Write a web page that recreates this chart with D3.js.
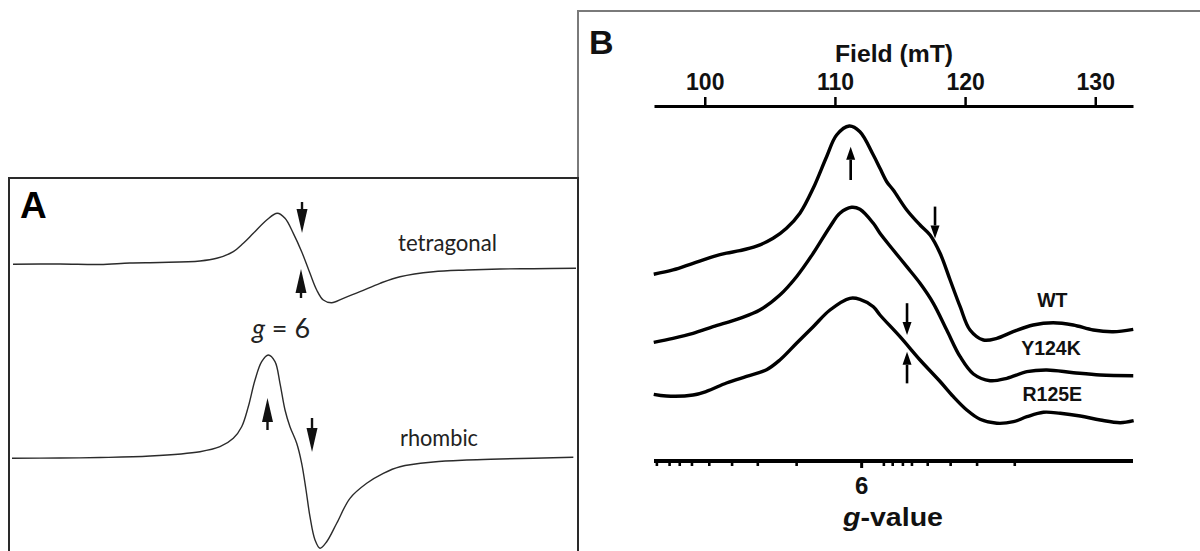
<!DOCTYPE html>
<html>
<head>
<meta charset="utf-8">
<script src="https://cdn.jsdelivr.net/npm/d3@7"></script>
<style>
  html, body { margin: 0; padding: 0; background: #fff; }
  svg { display: block; }
</style>
</head>
<body>
<svg id="fig" width="1200" height="551"></svg>
<script>
// ---------- Panel A: reference derivative spectra (arbitrary field units) ----------
const tetragonalField  = [0.18, 8.5, 15.58, 20.88, 26.19, 33.27, 36.23, 39.17, 40.94, 42.71, 45.08, 46.96, 48.32, 49.79, 51.27, 52.74, 53.93, 55.1, 56.58, 58.64, 61.59, 65.13, 68.67, 74.57, 80.48, 86.37, 92.27, 99.82];
const tetragonalSignal = [77.22, 77.30, 77.16, 77.57, 77.70, 78.11, 78.84, 80.62, 82.89, 85.59, 89.19, 91.0, 89.65, 85.59, 80.62, 74.78, 70.27, 67.57, 66.84, 68.03, 69.81, 72.08, 73.86, 75.22, 75.68, 75.95, 76.03, 76.14];

const rhombicField  = [0, 8.5, 15.58, 24.42, 33.27, 36.81, 39.17, 40.65, 41.82, 43.01, 44.19, 45.36, 46.55, 47.43, 48.32, 49.2, 50.39, 51.27, 52.04, 52.74, 53.63, 54.51, 55.7, 57.47, 59.82, 62.78, 65.72, 68.67, 74.57, 80.48, 86.37, 99.35];
const rhombicSignal = [24.78, 24.86, 25.0, 25.41, 26.57, 27.92, 30.19, 33.32, 38.73, 45.95, 50.89, 52.7, 50.89, 45.05, 37.84, 33.32, 28.84, 23.43, 16.22, 9.0, 2.7, 0.46, 2.24, 7.22, 13.97, 18.03, 20.73, 22.51, 23.78, 24.32, 24.59, 25.05];

// g = 6 markers on the panel A spectra (field position, arrow tail -> tip)
const aArrowField = [51.33, 51.15, 45.22, 53.1];
const aArrowFrom  = [94.05, 68.11, 32.43, 35.68];
const aArrowTo    = [85.68, 75.95, 41.08, 26.49];

const aTraceNames = ["tetragonal", "rhombic"];

// ---------- Panel B: measured spectra, field in mT ----------
const wtField  = [96.08, 97.56, 99.10, 100.64, 101.67, 102.69, 103.98, 105.25, 106.28, 107.31, 108.33, 109.36, 110.13, 111.1, 111.92, 112.95, 113.46, 113.98, 114.48, 115.52, 116.54, 117.31, 118.08, 118.85, 119.62, 120.38, 121.41, 122.44, 123.69, 125.23, 126.77, 128.31, 129.85, 131.38, 132.92];
const wtSignal = [53.06, 54.29, 56.2, 58.1, 59.1, 59.8, 61.1, 63.34, 66.2, 70.49, 77.63, 86.66, 92.86, 95.43, 93.8, 87.14, 83.34, 79.51, 77.14, 71.43, 67.14, 64.29, 59.06, 51.43, 43.8, 37.14, 34.29, 34.77, 36.66, 38.57, 39.23, 38.57, 37.14, 36.66, 37.34];

const y124kField  = [96.08, 97.56, 99.10, 100.64, 102.69, 104.23, 105.77, 107.05, 108.33, 109.62, 110.38, 111.28, 111.92, 112.95, 113.46, 114.48, 115.52, 116.54, 117.56, 118.59, 119.62, 120.64, 121.92, 123.21, 124.75, 126.28, 128.33, 130.38, 132.92];
const y124kSignal = [33.63, 34.77, 36.2, 38.09, 40.49, 42.86, 47.14, 52.37, 59.06, 66.66, 70.49, 72.2, 71.63, 67.63, 64.77, 60.0, 55.23, 50.49, 44.77, 37.14, 29.51, 24.57, 22.66, 23.34, 25.23, 25.71, 24.94, 24.29, 24.09];

const r125eField  = [96.08, 97.05, 99.10, 100.13, 101.67, 103.21, 104.75, 105.77, 107.05, 108.33, 109.62, 111.15, 111.92, 112.95, 113.46, 115.0, 116.54, 118.08, 119.1, 120.13, 121.15, 122.44, 123.72, 124.75, 126.02, 127.31, 128.85, 130.38, 131.92, 132.95];
const r125eSignal = [18.77, 18.29, 18.57, 19.6, 22.0, 23.9, 25.8, 28.57, 33.34, 38.09, 42.86, 46.2, 45.91, 43.8, 41.43, 35.23, 28.57, 22.43, 18.09, 14.29, 11.63, 10.49, 10.94, 12.37, 13.63, 13.34, 12.57, 11.43, 10.66, 11.23];

const bTraceNames = ["WT", "Y124K", "R125E"];
// label anchor for each trace (field, signal level)
const bLabelField  = [126.7, 126.6, 126.7];
const bLabelSignal = [43.7, 30.0, 17.0];

// feature markers on panel B (field, arrow tail -> tip)
const bArrowField = [111.21, 117.69, 115.54, 115.54];
const bArrowFrom  = [80.0, 72.4, 44.8, 21.9];
const bArrowTo    = [89.5, 63.3, 35.7, 30.9];

const fieldTicks   = [100, 110, 120, 130];
const fieldDomain  = [96.1, 132.9];
const microwaveGHz = 9.41;           // X-band
const gLabelTicks  = [6];
const gMinorTicks  = [6.98, 6.91, 6.855, 6.79, 6.70, 6.585, 6.46, 6.28, 5.91, 5.875, 5.835, 5.80, 5.74, 5.655, 5.56, 5.43];

// ---------- drawing ----------
const svg = d3.select("#fig");
const SANS = "'Liberation Sans', Arial, sans-serif";
const HUMANIST = "Lato, 'Open Sans', sans-serif";

function zip(xs, ys) { return xs.map((x, i) => [x, ys[i]]); }

function arrow(g, x, yTail, yTip, headLen, headW, stemW, color) {
  const dir = yTip < yTail ? -1 : 1;
  const yBase = yTip - dir * headLen;
  g.append("line")
    .attr("x1", x).attr("x2", x)
    .attr("y1", yTail).attr("y2", yBase)
    .attr("stroke", color).attr("stroke-width", stemW);
  g.append("path")
    .attr("d", `M${x - headW / 2},${yBase}L${x + headW / 2},${yBase}L${x},${yTip}Z`)
    .attr("fill", color);
}

// frames
const frames = svg.append("g").attr("fill", "none");
frames.append("path").attr("d", "M578,551V11H1200").attr("stroke", "#7a7a7a").attr("stroke-width", 2);
frames.append("path").attr("d", "M9,551V178H578V551").attr("stroke", "#2a2a2a").attr("stroke-width", 2);

// ----- Panel A -----
const xA = d3.scaleLinear().domain([0, 100]).range([12, 577]);
const yA = d3.scaleLinear().domain([0, 100]).range([550, 180]);

svg.append("clipPath").attr("id", "clipA")
  .append("rect").attr("x", 10).attr("y", 179).attr("width", 567).attr("height", 372);

const gA = svg.append("g").attr("clip-path", "url(#clipA)");
const lineA = d3.line().x(d => xA(d[0])).y(d => yA(d[1])).curve(d3.curveCatmullRom.alpha(0.5));

[[tetragonalField, tetragonalSignal], [rhombicField, rhombicSignal]].forEach(([f, s]) => {
  gA.append("path")
    .attr("d", lineA(zip(f, s)))
    .attr("fill", "none")
    .attr("stroke", "#2b2b2b")
    .attr("stroke-width", 1.4)
    .attr("stroke-linejoin", "round");
});

aArrowField.forEach((f, i) => {
  arrow(gA, xA(f), yA(aArrowFrom[i]), yA(aArrowTo[i]), 24, 11, 2.4, "#111");
});

svg.append("text").attr("x", 20).attr("y", 218)
  .attr("font-family", SANS).attr("font-weight", "bold").attr("font-size", 37)
  .text("A");

svg.append("text").attr("x", 398).attr("y", 251)
  .attr("font-family", HUMANIST).attr("font-size", 23).attr("fill", "#222")
  .attr("textLength", 99).attr("lengthAdjust", "spacingAndGlyphs")
  .text(aTraceNames[0]);
svg.append("text").attr("x", 400).attr("y", 446)
  .attr("font-family", HUMANIST).attr("font-size", 23).attr("fill", "#222")
  .attr("textLength", 78).attr("lengthAdjust", "spacingAndGlyphs")
  .text(aTraceNames[1]);

const gEq = svg.append("text").attr("x", 281).attr("y", 338)
  .attr("text-anchor", "middle")
  .attr("font-family", HUMANIST).attr("font-size", 27).attr("fill", "#222");
gEq.append("tspan").attr("font-style", "italic").text("g");
gEq.append("tspan").text(" = 6");

// ----- Panel B -----
const xB = d3.scaleLinear().domain(fieldDomain).range([654, 1133]);
const yB = d3.scaleLinear().domain([0, 100]).range([460, 110]);

// top field axis
const axisTopG = svg.append("g").attr("transform", "translate(0,106)")
  .call(d3.axisTop(xB).tickValues(fieldTicks).tickSize(9).tickSizeOuter(0).tickPadding(7));
axisTopG.select(".domain").attr("stroke", "#000").attr("stroke-width", 3);
axisTopG.selectAll(".tick line").attr("stroke", "#000").attr("stroke-width", 2.5);
axisTopG.selectAll(".tick text")
  .attr("font-family", SANS).attr("font-weight", "bold").attr("font-size", 23).attr("fill", "#111");

svg.append("text").attr("x", 894).attr("y", 62).attr("text-anchor", "middle")
  .attr("font-family", SANS).attr("font-weight", "bold").attr("font-size", 24).attr("fill", "#111")
  .attr("textLength", 118).attr("lengthAdjust", "spacingAndGlyphs")
  .text("Field (mT)");

// bottom g-value axis (g = h·nu / (muB·B))
const gToField = g => 71.4477 * microwaveGHz / g;
const gAxis = svg.append("g");
gAxis.append("line").attr("x1", xB.range()[0]).attr("x2", xB.range()[1])
  .attr("y1", 461).attr("y2", 461).attr("stroke", "#000").attr("stroke-width", 4);
gAxis.selectAll("line.minor").data(gMinorTicks).join("line").attr("class", "minor")
  .attr("x1", d => xB(gToField(d))).attr("x2", d => xB(gToField(d)))
  .attr("y1", 461).attr("y2", 466).attr("stroke", "#000").attr("stroke-width", 2.6);
gAxis.selectAll("line.major").data(gLabelTicks).join("line").attr("class", "major")
  .attr("x1", d => xB(gToField(d))).attr("x2", d => xB(gToField(d)))
  .attr("y1", 461).attr("y2", 468).attr("stroke", "#000").attr("stroke-width", 3);
gAxis.selectAll("text").data(gLabelTicks).join("text")
  .attr("x", d => xB(gToField(d))).attr("y", 494).attr("text-anchor", "middle")
  .attr("font-family", SANS).attr("font-weight", "bold").attr("font-size", 24).attr("fill", "#111")
  .text(d => d);

const gTitle = svg.append("text").attr("x", 893).attr("y", 526).attr("text-anchor", "middle")
  .attr("font-family", SANS).attr("font-weight", "bold").attr("font-size", 26).attr("fill", "#111")
  .attr("textLength", 100).attr("lengthAdjust", "spacingAndGlyphs");
gTitle.append("tspan").attr("font-style", "italic").text("g");
gTitle.append("tspan").text("-value");

// spectra
const lineB = d3.line().x(d => xB(d[0])).y(d => yB(d[1])).curve(d3.curveCatmullRom.alpha(0.5));
const bTraces = [[wtField, wtSignal], [y124kField, y124kSignal], [r125eField, r125eSignal]];
svg.append("g").selectAll("path").data(bTraces).join("path")
  .attr("d", d => lineB(zip(d[0], d[1])))
  .attr("fill", "none").attr("stroke", "#000")
  .attr("stroke-width", 3.4).attr("stroke-linejoin", "round").attr("stroke-linecap", "butt");

// trace labels
svg.append("g").selectAll("text").data(bTraceNames).join("text")
  .attr("x", (d, i) => xB(bLabelField[i]))
  .attr("y", (d, i) => yB(bLabelSignal[i]))
  .attr("text-anchor", "middle")
  .attr("font-family", SANS).attr("font-weight", "bold").attr("font-size", 19.5).attr("fill", "#111")
  .text(d => d);

// feature arrows
const gBArrows = svg.append("g");
bArrowField.forEach((f, i) => {
  arrow(gBArrows, xB(f), yB(bArrowFrom[i]), yB(bArrowTo[i]), 13, 9, 2.6, "#000");
});

svg.append("text").attr("x", 589).attr("y", 54)
  .attr("font-family", SANS).attr("font-weight", "bold").attr("font-size", 34).attr("fill", "#111")
  .text("B");
</script>
</body>
</html>
